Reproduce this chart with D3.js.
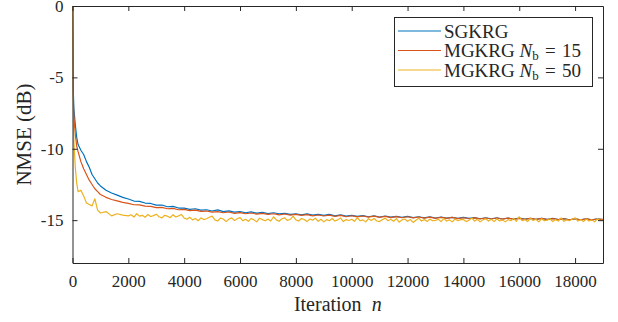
<!DOCTYPE html>
<html>
<head>
<meta charset="utf-8">
<script src="https://cdn.jsdelivr.net/npm/d3@7"></script>
<style>
  body { margin: 0; background: #fff; }
  text { font-family: "Liberation Serif", "Times New Roman", serif; fill: #262626; }
</style>
</head>
<body>
<div id="chart"></div>
<script>
// iteration index for SGKRG and MGKRG Nb=15
const iters = [0, 20, 50, 100, 150, 200, 300, 400, 500, 600, 700, 800, 900, 1000, 1200, 1400, 1600, 1800,
  2000, 2200, 2400, 2600, 2800, 3000, 3200, 3400, 3600, 3800, 4000, 4200, 4400, 4600, 4800,
  5000, 5200, 5400, 5600, 5800, 6000, 6200, 6400, 6600, 6800, 7000, 7200, 7400, 7600, 7800,
  8000, 8200, 8400, 8600, 8800, 9000, 9200, 9400, 9600, 9800, 10000, 10200, 10400, 10600, 10800,
  11000, 11200, 11400, 11600, 11800, 12000, 12200, 12400, 12600, 12800, 13000, 13200, 13400, 13600, 13800,
  14000, 14200, 14400, 14600, 14800, 15000, 15200, 15400, 15600, 15800, 16000, 16200, 16400, 16600, 16800,
  17000, 17200, 17400, 17600, 17800, 18000, 18200, 18400, 18600, 18800, 19000];

// finer iteration index for the noisier MGKRG Nb=50 curve
const itersFine = [0, 20, 50, 100, 150, 200, 300, 400, 500, 600, 700, 800, 900, 1000, 1200, 1400, 1600, 1800,
  2000, 2100, 2200, 2300, 2400, 2500, 2600, 2700, 2800, 2900,
  3000, 3100, 3200, 3300, 3400, 3500, 3600, 3700, 3800, 3900,
  4000, 4100, 4200, 4300, 4400, 4500, 4600, 4700, 4800, 4900,
  5000, 5100, 5200, 5300, 5400, 5500, 5600, 5700, 5800, 5900,
  6000, 6100, 6200, 6300, 6400, 6500, 6600, 6700, 6800, 6900,
  7000, 7100, 7200, 7300, 7400, 7500, 7600, 7700, 7800, 7900,
  8000, 8100, 8200, 8300, 8400, 8500, 8600, 8700, 8800, 8900,
  9000, 9100, 9200, 9300, 9400, 9500, 9600, 9700, 9800, 9900,
  10000, 10100, 10200, 10300, 10400, 10500, 10600, 10700, 10800, 10900,
  11000, 11100, 11200, 11300, 11400, 11500, 11600, 11700, 11800, 11900,
  12000, 12100, 12200, 12300, 12400, 12500, 12600, 12700, 12800, 12900,
  13000, 13100, 13200, 13300, 13400, 13500, 13600, 13700, 13800, 13900,
  14000, 14100, 14200, 14300, 14400, 14500, 14600, 14700, 14800, 14900,
  15000, 15100, 15200, 15300, 15400, 15500, 15600, 15700, 15800, 15900,
  16000, 16100, 16200, 16300, 16400, 16500, 16600, 16700, 16800, 16900,
  17000, 17100, 17200, 17300, 17400, 17500, 17600, 17700, 17800, 17900,
  18000, 18100, 18200, 18300, 18400, 18500, 18600, 18700, 18800, 18900,
  19000];

const sgkrg = [0, -5.5, -7.2, -8.3, -9.2, -9.7, -10.1, -10.4, -10.9, -11.3, -11.8, -12.1, -12.4, -12.6, -12.9, -13.1, -13.25, -13.4,
  -13.52, -13.66, -13.68, -13.8, -13.83, -13.95, -13.94, -14.06, -14.03, -14.15,
  -14.16, -14.24, -14.2, -14.3, -14.27,
  -14.36, -14.28, -14.4, -14.35, -14.44,
  -14.4, -14.48, -14.42, -14.51, -14.46,
  -14.54, -14.48, -14.55, -14.52, -14.59,
  -14.55, -14.63, -14.56, -14.65, -14.6,
  -14.67, -14.6, -14.7, -14.63, -14.72,
  -14.66, -14.74, -14.68, -14.76, -14.7,
  -14.78, -14.71, -14.79, -14.73, -14.81,
  -14.74, -14.82, -14.76, -14.84, -14.77,
  -14.85, -14.78, -14.86, -14.8, -14.88,
  -14.81, -14.88, -14.82, -14.9, -14.83,
  -14.9, -14.84, -14.92, -14.85, -14.93,
  -14.86, -14.93, -14.87, -14.95, -14.88,
  -14.95, -14.88, -14.96, -14.89, -14.97,
  -14.9, -14.97, -14.9, -14.98, -14.91,
  -14.96];

const mgkrg15 = [0, -6.0, -7.8, -9.0, -9.8, -10.2, -10.9, -11.4, -11.8, -12.2, -12.5, -12.8, -13.0, -13.2, -13.4, -13.55, -13.65, -13.75,
  -13.82, -13.92, -13.93, -14.02, -14.03, -14.12, -14.1, -14.2, -14.18, -14.27,
  -14.25, -14.33, -14.3, -14.39, -14.36,
  -14.44, -14.4, -14.48, -14.43, -14.52,
  -14.47, -14.55, -14.5, -14.58, -14.53,
  -14.6, -14.55, -14.63, -14.57, -14.65,
  -14.6, -14.67, -14.61, -14.7, -14.64,
  -14.71, -14.65, -14.74, -14.67, -14.76,
  -14.69, -14.77, -14.71, -14.79, -14.72,
  -14.8, -14.73, -14.82, -14.75, -14.83,
  -14.76, -14.84, -14.78, -14.86, -14.79,
  -14.87, -14.8, -14.88, -14.81, -14.89,
  -14.83, -14.9, -14.84, -14.91, -14.85,
  -14.92, -14.85, -14.93, -14.86, -14.94,
  -14.87, -14.94, -14.88, -14.95, -14.88,
  -14.96, -14.89, -14.96, -14.9, -14.97,
  -14.9, -14.97, -14.91, -14.98, -14.92,
  -14.95];

const mgkrg50 = [0, -7.0, -9.5, -11.3, -12.4, -13.0, -12.9, -13.3, -13.8, -13.9, -14.0, -13.5, -14.3, -14.5, -14.4, -14.7, -14.55, -14.65,
  -14.70, -14.62, -14.78, -14.55, -14.72, -14.66, -14.80, -14.60, -14.74, -14.68,
  -14.58, -14.76, -14.84, -14.66, -14.72, -14.82, -14.62, -14.78, -14.70, -14.60,
  -14.86, -14.94, -14.80, -14.98, -14.88, -15.04, -14.84, -14.96, -14.90, -14.80,
  -14.72, -14.98, -15.06, -14.86, -14.92, -15.10, -14.94, -14.84, -15.02, -14.90,
  -14.82, -15.04, -14.94, -15.08, -14.88, -14.98, -15.12, -14.86, -14.96, -15.04,
  -14.92, -15.06, -14.76, -14.98, -15.08, -14.90, -14.84, -15.02, -14.94, -14.72,
  -14.98, -15.06, -14.88, -14.96, -15.10, -14.92, -15.00, -14.86, -15.08, -14.94,
  -15.12, -14.96, -15.04, -14.88, -15.06, -14.98, -14.84, -15.10, -14.96, -15.02,
  -14.94, -15.08, -14.82, -15.04, -14.98, -15.12, -14.90, -15.02, -14.88, -15.06,
  -15.10, -14.96, -14.86, -15.04, -14.94, -15.08, -14.90, -15.14, -14.98, -14.92,
  -15.08, -14.96, -15.16, -15.00, -14.86, -15.06, -14.96, -15.10, -14.92, -15.04,
  -15.02, -14.94, -15.10, -14.88, -15.06, -14.98, -15.12, -14.92, -15.04, -14.96,
  -14.96, -15.10, -15.00, -14.84, -15.06, -14.94, -15.12, -14.98, -14.90, -15.06,
  -14.94, -15.10, -14.90, -15.06, -14.98, -15.12, -14.96, -15.04, -14.88, -15.08,
  -14.76, -15.04, -14.96, -15.10, -14.86, -15.02, -14.94, -15.12, -14.90, -15.04,
  -15.00, -14.90, -15.10, -14.96, -15.06, -14.84, -15.08, -14.98, -15.04, -14.92,
  -14.84, -15.06, -14.96, -15.10, -14.92, -15.06, -14.98, -15.12, -14.90, -15.02,
  -15.00];

const seriesNames = ["SGKRG", "MGKRG15", "MGKRG50"];
const colors = ["#0072BD", "#D95319", "#EDB120"];
const xTicks = [0, 2000, 4000, 6000, 8000, 10000, 12000, 14000, 16000, 18000];
const yTicks = [0, -5, -10, -15];

const width = 618;
const height = 322;
const margin = {top: 6, right: 15, bottom: 59, left: 72.5};

const x = d3.scaleLinear()
    .domain([0, 19000])
    .range([margin.left, width - margin.right]);
const y = d3.scaleLinear()
    .domain([-18, 0])
    .range([height - margin.bottom, margin.top]);

const data = [
  iters.map((n, i) => ({n: n, v: sgkrg[i]})),
  iters.map((n, i) => ({n: n, v: mgkrg15[i]})),
  itersFine.map((n, i) => ({n: n, v: mgkrg50[i]}))
];

const svg = d3.select("#chart")
    .append("svg")
    .attr("width", width)
    .attr("height", height);

svg.append("defs").append("clipPath")
    .attr("id", "plot-clip")
  .append("rect")
    .attr("x", margin.left)
    .attr("y", margin.top)
    .attr("width", x.range()[1] - margin.left)
    .attr("height", y.range()[0] - margin.top);

const line = d3.line()
    .defined(d => d.v !== undefined)
    .x(d => x(d.n))
    .y(d => y(d.v));

svg.append("g")
    .attr("clip-path", "url(#plot-clip)")
  .selectAll("path")
  .data(data)
  .join("path")
    .attr("fill", "none")
    .attr("stroke", (d, i) => colors[i])
    .attr("stroke-width", 1.2)
    .attr("stroke-linejoin", "round")
    .attr("d", line);

// axes, MATLAB style box with inward ticks
const styleAxis = g => g
    .call(g => g.selectAll(".domain").attr("stroke", "#262626"))
    .call(g => g.selectAll(".tick line").attr("stroke", "#262626"))
    .call(g => g.selectAll("text")
        .attr("fill", "#262626")
        .attr("font-size", 17));

svg.append("g")
    .attr("transform", `translate(0,${y.range()[0]})`)
    .call(d3.axisBottom(x).tickValues(xTicks).tickFormat(d => String(d))
        .tickSizeInner(-5).tickSizeOuter(0).tickPadding(12))
    .call(styleAxis);

svg.append("g")
    .attr("transform", `translate(0,${margin.top})`)
    .call(d3.axisTop(x).tickValues(xTicks).tickFormat("")
        .tickSizeInner(-5).tickSizeOuter(0))
    .call(styleAxis);

svg.append("g")
    .attr("transform", `translate(${margin.left},0)`)
    .call(d3.axisLeft(y).tickValues(yTicks).tickFormat(d => String(d))
        .tickSizeInner(-5).tickSizeOuter(0).tickPadding(9))
    .call(styleAxis);

svg.append("g")
    .attr("transform", `translate(${x.range()[1]},0)`)
    .call(d3.axisRight(y).tickValues(yTicks).tickFormat("")
        .tickSizeInner(-5).tickSizeOuter(0))
    .call(styleAxis);

// axis titles
const xTitle = svg.append("text")
    .attr("x", (margin.left + x.range()[1]) / 2)
    .attr("y", 311)
    .attr("text-anchor", "middle")
    .attr("font-size", 20);
xTitle.append("tspan").text("Iteration\u2002");
xTitle.append("tspan").attr("font-style", "italic").text("n");

svg.append("text")
    .attr("transform", `translate(31,${(y.range()[0] + margin.top) / 2}) rotate(-90)`)
    .attr("text-anchor", "middle")
    .attr("font-size", 21)
    .text("NMSE (dB)");

// legend
const legend = svg.append("g");
legend.append("rect")
    .attr("x", 394.5)
    .attr("y", 17.5)
    .attr("width", 198)
    .attr("height", 69)
    .attr("fill", "#fff")
    .attr("stroke", "#262626")
    .attr("stroke-width", 1);

const rows = legend.selectAll("g.row")
    .data(seriesNames)
    .join("g")
    .attr("class", "row")
    .attr("transform", (d, i) => `translate(398,${31 + i * 19.5})`);

rows.append("line")
    .attr("x1", 0).attr("x2", 43)
    .attr("stroke", (d, i) => colors[i])
    .attr("stroke-width", 1);

rows.each(function(d) {
  const t = d3.select(this).append("text")
      .attr("x", 46)
      .attr("y", 6.5)
      .attr("font-size", 19);
  if (d === "SGKRG") {
    t.text("SGKRG");
  } else {
    t.append("tspan").text("MGKRG ");
    t.append("tspan").attr("font-style", "italic").text("N");
    t.append("tspan").attr("font-size", 13).attr("dy", 3).text("b");
    t.append("tspan").attr("dy", -3).text(d === "MGKRG15" ? "\u2004=\u200415" : "\u2004=\u200450");
  }
});
</script>
</body>
</html>
